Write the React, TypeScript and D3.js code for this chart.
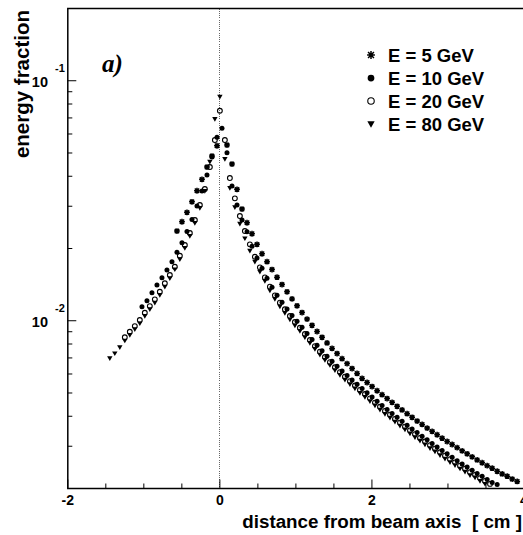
import React from "react";
import * as d3 from "d3";

const W = 523;
const H = 535;

// Axis settings
const xMajorTicks = [-2, 0, 2, 4];
const xTickLabels = ["-2", "0", "2", "4"];
const xMinorTicks = [-1.5, -1, -0.5, 0.5, 1, 1.5, 2.5, 3, 3.5];
const yDecades = [0.1, 0.01];
const yDecadeExponents = ["-1", "-2"];
const yMinorMantissas = [2, 3, 4, 5, 6, 7, 8, 9];
const yMinorDecades = [0.001, 0.01, 0.1];

const legendLabels = ["E = 5 GeV", "E = 10 GeV", "E = 20 GeV", "E = 80 GeV"];

// Samples are taken every BIN_WIDTH cm; each series starts at its first bin index
const BIN_WIDTH = 0.0658;

// E = 5 GeV (no sample at bin 0)
const e5FirstBin = -9;
const e5Shift = 0.028;
const e5Values: (number | null)[] = [
  0.02364, 0.02585, 0.02829, 0.03131, 0.03481, 0.03883, 0.04369, 0.04856, 0.0536,
  null,
  0.05396, 0.04497, 0.03527, 0.0292, 0.0256, 0.02304, 0.02081, 0.01902, 0.01762, 0.01634,
  0.01519, 0.01415, 0.0132, 0.01233, 0.01154, 0.01082, 0.01016, 0.00957, 0.00902, 0.00853,
  0.00808, 0.00767, 0.0073, 0.00695, 0.00663, 0.00632, 0.00603, 0.00575, 0.00553, 0.00532,
  0.00511, 0.00492, 0.00474, 0.00457, 0.0044, 0.00425, 0.0041, 0.00396, 0.00382, 0.0037,
  0.00357, 0.00346, 0.00335, 0.00324, 0.00314, 0.00305, 0.00296, 0.00287, 0.00279, 0.00271,
  0.00263, 0.00256, 0.00249, 0.00243, 0.00236, 0.0023, 0.00225, 0.00219, 0.00214,
];

// E = 10 GeV
const e10FirstBin = -16;
const e10Shift = 0.028;
const e10Values: (number | null)[] = [
  0.01144, 0.01211, 0.01308, 0.01408, 0.01511, 0.01626, 0.01762, 0.01928, 0.02113, 0.02353,
  0.02641, 0.03006, 0.0347, 0.04047, 0.0481, 0.0581, 0.06334,
  0.05012, 0.0364, 0.03035, 0.02628, 0.02349, 0.02042, 0.01827, 0.01653, 0.01505, 0.0138,
  0.01276, 0.01193, 0.01119, 0.01052, 0.00994, 0.0094, 0.00885, 0.00836, 0.0079, 0.00749,
  0.00712, 0.00678, 0.00647, 0.00618, 0.00592, 0.00567, 0.00544, 0.00522, 0.00501, 0.00481,
  0.00462, 0.00444, 0.00427, 0.00411, 0.00396, 0.00381, 0.00367, 0.00354, 0.00342, 0.0033,
  0.00319, 0.00308, 0.00298, 0.00288, 0.00279, 0.0027, 0.00261, 0.00253, 0.00246, 0.00238,
  0.00231, 0.00225, 0.00218, 0.00212, 0.00208,
];

// E = 20 GeV
const e20FirstBin = -19;
const e20Shift = 0;
const e20Values: (number | null)[] = [
  0.00853, 0.009, 0.0095, 0.01007, 0.0108, 0.01151, 0.01228, 0.01321, 0.01432, 0.0155,
  0.01679, 0.01866, 0.02067, 0.0232, 0.02628, 0.03035, 0.03537, 0.04369, 0.05661, 0.07499,
  0.05661, 0.03932, 0.03236, 0.02731, 0.02364, 0.02081, 0.01848, 0.01669, 0.01516, 0.01386,
  0.01276, 0.01189, 0.01116, 0.01046, 0.00988, 0.00935, 0.0088, 0.00831, 0.00784, 0.00743,
  0.00706, 0.00672, 0.0064, 0.00611, 0.00585, 0.0056, 0.00537, 0.00515, 0.00495, 0.00475,
  0.00456, 0.00438, 0.00421, 0.00406, 0.0039, 0.00376, 0.00362, 0.00349, 0.00337, 0.00325,
  0.00314, 0.00303, 0.00293, 0.00283, 0.00274, 0.00265, 0.00257, 0.00249, 0.00242, 0.00234,
  0.00228, 0.00221, 0.00215, 0.00209,
];

// E = 80 GeV
const e80FirstBin = -22;
const e80Shift = 0;
const e80Values: (number | null)[] = [
  0.00697, 0.00731, 0.00775, 0.00826, 0.00872, 0.00921, 0.00975, 0.01046, 0.01116, 0.01189,
  0.0128, 0.01386, 0.01502, 0.01637, 0.01803, 0.02009, 0.02254, 0.02553, 0.02948, 0.0347,
  0.04597, 0.06924, 0.08577,
  0.04718, 0.03572, 0.02968, 0.02536, 0.02204, 0.01957, 0.01762, 0.016, 0.01464, 0.01336,
  0.01231, 0.01146, 0.01077, 0.01012, 0.00955, 0.00906, 0.00853, 0.00808, 0.00762, 0.00722,
  0.00686, 0.00653, 0.00622, 0.00594, 0.00568, 0.00544, 0.00522, 0.005, 0.00481, 0.00462,
  0.00443, 0.00426, 0.00409, 0.00394, 0.00379, 0.00365, 0.00352, 0.00339, 0.00327, 0.00316,
  0.00305, 0.00294, 0.00285, 0.00275, 0.00266, 0.00257, 0.0025, 0.00242, 0.00235, 0.00227,
  0.00222, 0.00215, 0.00209,
];

type Pt = { x: number; y: number };

function toPoints(first: number, shift: number, values: (number | null)[]): Pt[] {
  const out: Pt[] = [];
  values.forEach((v, i) => {
    if (v != null) out.push({ x: (first + i) * BIN_WIDTH + shift, y: v });
  });
  return out;
}

// Marker shapes
function starPath(s: number) {
  const d = s * 0.75;
  return `M${-s},0L${s},0M0,${-s}L0,${s}M${-d},${-d}L${d},${d}M${-d},${d}L${d},${-d}`;
}
function triPath(a: number, b: number, c: number) {
  return `M${-a},${-b}L${a},${-b}L0,${c}Z`;
}

type Kind = "star" | "dot" | "ring" | "tri";

function Marker({ kind, x, y, big }: { kind: Kind; x: number; y: number; big?: boolean }) {
  const k = big ? 1.35 : 1;
  if (kind === "star")
    return (
      <path d={starPath(2.9 * k)} transform={`translate(${x},${y})`} stroke="#000" strokeWidth={1.5} fill="none" />
    );
  if (kind === "dot") return <circle cx={x} cy={y} r={2.5 * k} fill="#000" />;
  if (kind === "ring")
    return <circle cx={x} cy={y} r={2.4 * k} fill="none" stroke="#000" strokeWidth={1.1} />;
  return <path d={triPath(2.7 * k, 2 * k, 2.7 * k)} transform={`translate(${x},${y})`} fill="#000" />;
}

export default function App() {
  const x = d3.scaleLinear().domain([-2, 4]).range([67.8, 524]);
  const y = d3.scaleLog().domain([0.002, 0.2]).range([488.5, 8.5]);

  const series: { kind: Kind; pts: Pt[] }[] = [
    { kind: "star", pts: toPoints(e5FirstBin, e5Shift, e5Values) },
    { kind: "dot", pts: toPoints(e10FirstBin, e10Shift, e10Values) },
    { kind: "ring", pts: toPoints(e20FirstBin, e20Shift, e20Values) },
    { kind: "tri", pts: toPoints(e80FirstBin, e80Shift, e80Values) },
  ];
  const legendKinds: Kind[] = ["star", "dot", "ring", "tri"];

  const yMinor: number[] = [];
  yMinorDecades.forEach((dec) =>
    yMinorMantissas.forEach((m) => {
      const v = m * dec;
      if (v > 0.002 && v < 0.2) yMinor.push(v);
    })
  );

  const x0 = x.range()[0];
  const x1 = x.range()[1];
  const yTop = y.range()[1];
  const yBot = y.range()[0];
  const zeroX = Math.floor(x(0)) + 0.5;
  const font = "'Liberation Sans', Arial, Helvetica, sans-serif";

  return (
    <svg
      width={W}
      height={H}
      viewBox={`0 0 ${W} ${H}`}
      style={{ position: "absolute", left: 0, top: 0, background: "#fff", display: "block" }}
    >
      <rect x={0} y={0} width={W} height={H} fill="#fff" />

      {/* zero reference line */}
      <line
        x1={zeroX}
        x2={zeroX}
        y1={yTop}
        y2={yBot}
        stroke="#666"
        strokeWidth={1}
        strokeDasharray="1,1.2"
        shapeRendering="crispEdges"
      />

      {/* frame */}
      <rect x={x0} y={yTop} width={x1 - x0} height={yBot - yTop} fill="none" stroke="#000" strokeWidth={1.5} />

      {/* x ticks */}
      {xMajorTicks.map((t) => (
        <line key={`xm${t}`} x1={x(t)} x2={x(t)} y1={yBot} y2={yBot - 9} stroke="#000" strokeWidth={1} />
      ))}
      {xMinorTicks.map((t) => (
        <line key={`xn${t}`} x1={x(t)} x2={x(t)} y1={yBot} y2={yBot - 5} stroke="#000" strokeWidth={1} />
      ))}
      {xMajorTicks.map((t, i) => (
        <text
          key={`xl${t}`}
          x={x(t)}
          y={505}
          textAnchor="middle"
          fontFamily={font}
          fontWeight="bold"
          fontSize={14}
        >
          {xTickLabels[i]}
        </text>
      ))}

      {/* y ticks */}
      {yDecades.map((t) => (
        <line key={`ym${t}`} x1={x0} x2={x0 + 8.5} y1={y(t)} y2={y(t)} stroke="#000" strokeWidth={1} />
      ))}
      {yMinor.map((t) => (
        <line key={`yn${t}`} x1={x0} x2={x0 + 4.5} y1={y(t)} y2={y(t)} stroke="#000" strokeWidth={1} />
      ))}
      {yDecades.map((t, i) => (
        <g key={`yl${t}`} fontFamily={font} fontWeight="bold">
          <text x={48} y={y(t) + 6.6} textAnchor="end" fontSize={14.5}>
            10
          </text>
          <text x={55} y={y(t) - 9} fontSize={11}>
            {yDecadeExponents[i]}
          </text>
        </g>
      ))}

      {/* data */}
      {series.map((s, si) => (
        <g key={`s${si}`}>
          {s.pts.map((p, i) => (
            <Marker key={i} kind={s.kind} x={x(p.x)} y={y(p.y)} />
          ))}
        </g>
      ))}

      {/* legend */}
      {legendLabels.map((lab, i) => {
        const base = 62 + i * 23;
        return (
          <g key={lab}>
            <Marker kind={legendKinds[i]} x={371} y={base - 7} big />
            <text x={388} y={base} fontFamily={font} fontWeight="bold" fontSize={18.5}>
              {lab}
            </text>
          </g>
        );
      })}

      {/* panel label */}
      <text
        x={102}
        y={72}
        fontFamily="'Liberation Serif', 'Times New Roman', serif"
        fontWeight="bold"
        fontStyle="italic"
        fontSize={25}
      >
        a)
      </text>

      {/* axis titles */}
      <text
        x={522}
        y={528}
        textAnchor="end"
        fontFamily={font}
        fontWeight="bold"
        fontSize={18.8}
        style={{ whiteSpace: "pre" }}
      >
        {"distance from beam axis  [ cm ]"}
      </text>
      <text
        transform="translate(28.5,10) rotate(-90)"
        textAnchor="end"
        fontFamily={font}
        fontWeight="bold"
        fontSize={20.5}
      >
        energy fraction
      </text>
    </svg>
  );
}
